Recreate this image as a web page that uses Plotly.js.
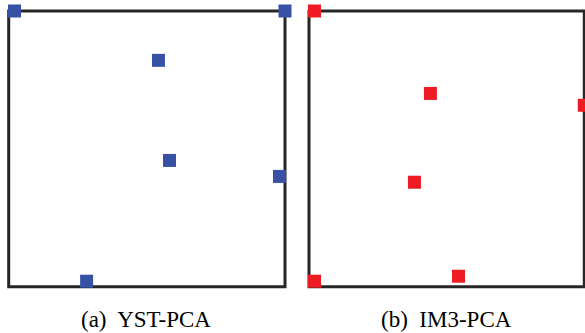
<!DOCTYPE html>
<html>
<head>
<meta charset="utf-8">
<script src="https://cdn.plot.ly/plotly-3.0.1.min.js"></script>
<style>html,body{margin:0;padding:0;background:#fff;}#chart{width:585px;height:333px;}</style>
</head>
<body>
<div id="chart"></div>
<script>
// Panel (a) YST-PCA points (normalized within frame)
const ystX = [0.021, 1.0, 0.542, 0.582, 0.980, 0.282];
const ystY = [1.0, 1.0, 0.821, 0.458, 0.400, 0.020];
// Panel (b) IM3-PCA points
const im3X = [0.020, 0.441, 1.0, 0.383, 0.543, 0.020];
const im3Y = [1.0, 0.701, 0.658, 0.379, 0.038, 0.020];
const panelLabels = ["(a)  YST-PCA", "(b)  IM3-PCA"];

const W = 585, H = 333;
const xdomA = [8.7 / W, 285 / W];
const xdomB = [309 / W, 584.3 / W];
const ydom = [1 - 286.7 / H, 1 - 11 / H];

const traces = [
  {x: ystX, y: ystY, xaxis: 'x', yaxis: 'y', type: 'scatter', mode: 'markers', cliponaxis: false,
   marker: {symbol: 'square', size: 13, color: '#3651A5', line: {width: 0}}, hoverinfo: 'skip'},
  {x: im3X, y: im3Y, xaxis: 'x2', yaxis: 'y2', type: 'scatter', mode: 'markers', cliponaxis: false,
   marker: {symbol: 'square', size: 13, color: '#ED1C24', line: {width: 0}}, hoverinfo: 'skip'}
];

const ax = (dom, anchor) => ({domain: dom, range: [0, 1], visible: false, fixedrange: true, anchor: anchor});
const frame = (xd) => ({type: 'rect', xref: 'paper', yref: 'paper', x0: xd[0], x1: xd[1], y0: ydom[0], y1: ydom[1],
  line: {color: '#262626', width: 3}, fillcolor: 'rgba(0,0,0,0)', layer: 'below'});

const layout = {
  width: W, height: H,
  margin: {l: 0, r: 0, t: 0, b: 0},
  paper_bgcolor: '#ffffff', plot_bgcolor: 'rgba(0,0,0,0)',
  showlegend: false,
  font: {family: 'Liberation Serif', size: 23, color: '#000'},
  xaxis: ax(xdomA, 'y'), yaxis: ax(ydom, 'x'),
  xaxis2: ax(xdomB, 'y2'), yaxis2: ax(ydom, 'x2'),
  shapes: [frame(xdomA), frame(xdomB)],
  annotations: [
    {text: panelLabels[0], xref: 'paper', yref: 'paper', x: 146 / W, y: 1 - 319.5 / H, xanchor: 'center', yanchor: 'middle',
     showarrow: false},
    {text: panelLabels[1], xref: 'paper', yref: 'paper', x: 446 / W, y: 1 - 319.5 / H, xanchor: 'center', yanchor: 'middle',
     showarrow: false}
  ]
};

Plotly.newPlot('chart', traces, layout, {staticPlot: true, displayModeBar: false});
</script>
</body>
</html>
